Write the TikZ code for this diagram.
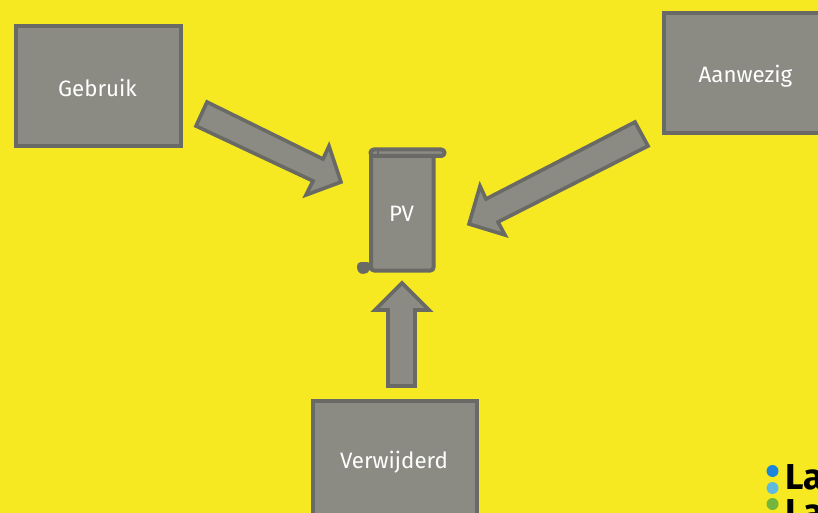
\documentclass[tikz,border=0pt]{standalone}
\usepackage{fontspec}
\setmainfont{Fira Sans}
\definecolor{bg}{HTML}{F7E921}
\definecolor{fillg}{HTML}{8B8B83}
\definecolor{edge}{HTML}{696965}
\definecolor{dotA}{HTML}{1C86DC}
\definecolor{dotB}{HTML}{5FBBDD}
\definecolor{dotC}{HTML}{74B53C}
\tikzset{
  shapeline/.style={draw=edge,fill=fillg,line width=4pt,line join=round},
  boxline/.style={shapeline,line join=miter},
  arrowline/.style={shapeline,line width=3.6pt,line join=miter,miter limit=3},
  lbl/.style={text=white,font=\fontsize{22.3}{24}\selectfont,inner sep=0pt},
  logotext/.style={text=black,font=\fontsize{36}{36}\selectfont\bfseries,inner sep=0pt,anchor=base west}
}
\begin{document}
\begin{tikzpicture}[x=1pt,y=-1pt]
\useasboundingbox (0,0) rectangle (818,513);
\clip (0,0) rectangle (818,513);
\fill[bg] (0,0) rectangle (818,513);
% boxes
\draw[boxline] (15.5,26.5) rectangle (181,146);
\node[lbl] (gebruik) at (97.5,88) {Gebruik};
\draw[boxline] (663.5,13.5) rectangle (830,133);
\node[lbl] (aanwezig) at (745.5,76) {Aanwezig};
\draw[boxline] (312.5,400.5) rectangle (477,530);
\node[lbl] (verwijderd) at (394,462) {Verwijderd};
% block arrows
\draw[arrowline] (207,102) -- (323,159) -- (329,146) -- (341,182) -- (306,195) -- (313,181) -- (196,126) -- cycle;
\draw[arrowline] (635,122) -- (648,146) -- (498,222) -- (505,235) -- (469,224) -- (480,186) -- (486,199) -- cycle;
\draw[arrowline] (402,283) -- (429,310) -- (415,310) -- (415,386) -- (388,386) -- (388,310) -- (375,310) -- cycle;
% scroll
\draw[shapeline,rounded corners=3pt] (371,150) -- (371,270.5) -- (433.5,270.5) -- (433.5,152) -- cycle;
\draw[shapeline,rounded corners=3.2pt] (370.5,149.5) rectangle (444.5,156);
\draw[edge,line width=2pt] (378,150) -- (378,155.5);
\fill[edge,rounded corners=4pt] (371,262) -- (357,262) -- (357,272) -- (364,275) -- (371,270) -- cycle;
\node[lbl] (pv) at (401.5,214) {PV};
% logo
\fill[dotA] (772.5,471) circle (6);
\fill[dotB] (772.5,488) circle (6);
\fill[dotC] (772.5,504) circle (6);
\node[logotext] (logoa) at (785,489) {La};
\node[logotext] (logob) at (785,524) {La};
\end{tikzpicture}
\end{document}
